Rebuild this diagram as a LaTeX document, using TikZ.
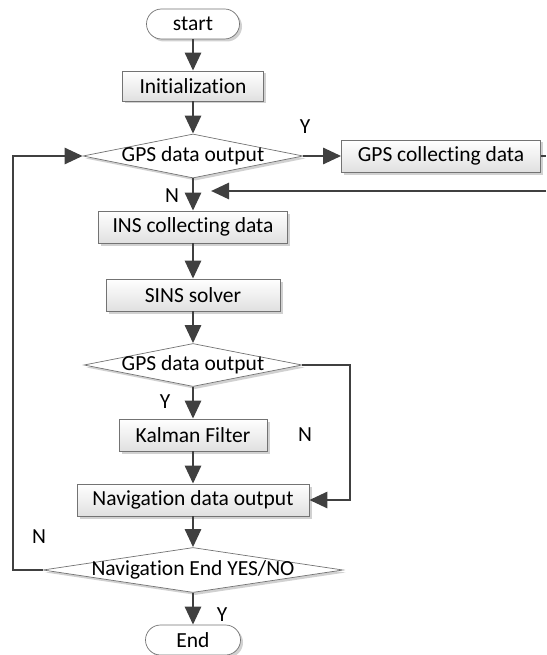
\documentclass[tikz,border=0pt]{standalone}
\usepackage{fontspec}
\setmainfont[Ligatures=NoCommon]{Carlito}
\usetikzlibrary{shapes.geometric,arrows.meta,shadows}
\begin{document}
\begin{tikzpicture}[x=1pt,y=-1pt,
  font=\fontsize{21.5}{25}\selectfont,
  base/.style={draw=black!55, line width=0.7pt, inner sep=0pt,
    drop shadow={shadow xshift=2.5pt, shadow yshift=-2.5pt, opacity=0.3, fill=black!60}},
  proc/.style={base, rectangle, top color=white, bottom color=black!12, minimum height=32pt},
  term/.style={base, rectangle, rounded corners=15pt, fill=white, minimum height=30pt},
  dec/.style={base, diamond, fill=white},
  flow/.style={draw=black!75, line width=2.8pt, -{Triangle[length=18pt,width=16pt]}},
  plain/.style={draw=black!75, line width=2.8pt},
  lbl/.style={inner sep=0pt}
]
\useasboundingbox (0,0) rectangle (546,655);

\node[term, minimum width=93pt] (start) at (193,24) {start};
\node[proc, minimum width=141pt, minimum height=30pt] (init) at (193,86) {Initialization};
\node[dec, minimum width=220pt, minimum height=44pt, label={[lbl]center:GPS data output}] (d1) at (193,156) {};
\node[proc, minimum width=199pt] (gps) at (441,156) {GPS collecting data};
\node[proc, minimum width=189pt] (ins) at (193,227) {INS collecting data};
\node[proc, minimum width=174pt] (sins) at (193,295) {SINS solver};
\node[dec, minimum width=218pt, minimum height=43pt, label={[lbl]center:GPS data output}] (d2) at (193,365) {};
\node[proc, minimum width=148pt] (kal) at (193,435) {Kalman Filter};
\node[proc, minimum width=232pt] (nav) at (193,500) {Navigation data output};
\node[dec, minimum width=300pt, minimum height=45pt, label={[lbl]center:Navigation End YES/NO}] (d3) at (193,570) {};
\node[term, minimum width=95pt] (end) at (193,640) {End};

\node[lbl] (y1) at (305,127) {Y};
\node[lbl] (n1) at (172,196) {N};
\node[lbl] (y2) at (165,402) {Y};
\node[lbl] (n2) at (305,435) {N};
\node[lbl] (n3) at (39,537) {N};
\node[lbl] (y3) at (222,615) {Y};

\coordinate (gpsend) at (546,156);
\coordinate (retstart) at (546,191);
\coordinate (retend) at (211,191);
\coordinate (rc) at (350,365);
\coordinate (lc) at (13,570);

\draw[flow] (start.south) -- (init.north);
\draw[flow] (init.south) -- (d1.north);
\draw[flow] (d1.east) -- (gps.west);
\draw[plain] (gps.east) -- (gpsend);
\draw[flow] (retstart) -- (retend);
\draw[flow] (d1.south) -- (ins.north);
\draw[flow] (ins.south) -- (sins.north);
\draw[flow] (sins.south) -- (d2.north);
\draw[flow] (d2.south) -- (kal.north);
\draw[flow] (kal.south) -- (nav.north);
\draw[flow] (d2.east) -- (rc) |- (nav.east);
\draw[flow] (nav.south) -- (d3.north);
\draw[flow] (d3.west) -- (lc) |- (d1.west);
\draw[flow] (d3.south) -- (end.north);
\end{tikzpicture}
\end{document}
